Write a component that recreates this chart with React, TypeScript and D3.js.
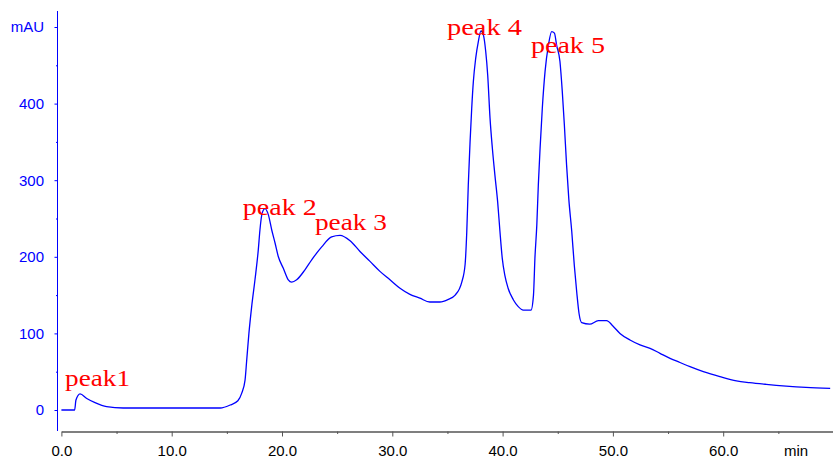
import React, { useEffect, useRef } from 'react';
import * as d3 from 'd3';

// retention time (min) and absorbance (mAU)
const times = [
  0, 1.2, 1.32, 1.69, 2.3, 3.05, 4.1, 5.6, 14.4, 15.3, 16.0, 16.35, 16.65, 16.8, 17.0, 17.25,
  17.55, 17.85, 18.0, 18.2, 18.46, 18.76, 19.07, 19.37, 19.67, 20.12, 20.57, 20.88, 21.33, 22.08,
  22.69, 23.6, 24.5, 25.26, 26.17, 27.07, 27.98, 28.88, 29.79, 30.7, 31.6, 32.5, 33.4, 34.3,
  35.08, 35.7, 36.3, 36.6, 36.75, 36.89, 37.05, 37.2, 37.35, 37.56, 37.8, 38.04, 38.25, 38.47,
  38.65, 38.86, 39.07, 39.3, 39.55, 39.76, 39.97, 40.2, 40.5, 40.97, 41.42, 41.88, 42.58, 42.8,
  42.93, 43.1, 43.24, 43.4, 43.6, 43.85, 44.15, 44.45, 44.7, 44.9, 45.2, 45.41, 45.6, 45.8, 46.0,
  46.27, 46.5, 46.72, 46.93, 47.17, 47.9, 48.68, 49.43, 50.0, 50.64, 51.55, 52.46, 53.37, 54.27,
  55.18, 56.08, 56.99, 58.2, 59.7, 61.2, 62.4, 63.9, 65.7, 67.5, 69.7,
];
const absorbance = [
  0, 0, 13, 21, 15, 9.6, 4.4, 2.6, 2.6, 6.5, 12, 22, 39, 65, 100, 135,
  170, 209, 235, 257, 263, 255, 235, 218, 200, 185, 170, 167, 170, 183,
  196, 213, 226, 228, 221, 207, 194, 181, 170, 159, 151, 146, 141, 141,
  144.5, 150, 167, 190, 232, 294, 350, 394, 429, 459, 481, 495, 490, 468,
  437, 381, 342, 307, 272, 233, 198, 176, 159, 144, 135, 130.5, 130.5, 150,
  198, 241, 294, 342, 394, 442, 476, 494, 492, 476, 455, 416, 372, 320, 276,
  233, 189, 154, 126, 114, 112, 116.6, 116.6, 109.7, 100, 91.4, 85, 80.5, 74,
  67.5, 62, 56.5, 50, 43.5, 38, 35.7, 33.5, 31.3, 29.6, 28.3,
];

const xMajorTicks = [0, 10, 20, 30, 40, 50, 60];
const xMinorTicks = [5, 15, 25, 35, 45, 55, 65];
const yMajorTicks = [0, 100, 200, 300, 400, 500];
const yMinorTicks = [50, 150, 250, 350, 450];

const peakNames = ['peak1', 'peak 2', 'peak 3', 'peak 4', 'peak 5'];
// label anchor (left, baseline) in data units
const peakLabelTime = [0.33, 16.44, 22.99, 34.96, 42.57];
const peakLabelValue = [31, 255, 235, 489, 466];

const W = 833;
const H = 459;

export default function App() {
  const svgRef = useRef<SVGSVGElement>(null);

  useEffect(() => {
    if (!svgRef.current) return;
    const svg = d3.select(svgRef.current);
    svg.selectAll('*').remove();

    const x = d3.scaleLinear().domain([0, 70]).range([61.4, 833.5]);
    const y = d3.scaleLinear().domain([0, 500]).range([410, 27]);
    const axisY = 431.5;
    const axisX = 57.5;
    const sans = "'Liberation Sans', Arial, Helvetica, sans-serif";

    // x axis
    const gx = svg.append('g').attr('transform', `translate(0,${axisY})`);
    gx.call(
      d3.axisBottom(x).tickValues(xMajorTicks).tickSize(5).tickSizeOuter(0)
        .tickFormat(d => d3.format('.1f')(d as number))
    );
    gx.select('.domain').attr('stroke', '#555').attr('stroke-width', 1.5);
    gx.selectAll('.tick line').attr('stroke', '#555');
    gx.selectAll('.tick text')
      .attr('y', 24).attr('dy', 0)
      .attr('font-family', sans).attr('font-size', 15).attr('fill', '#000');

    const gxMinor = svg.append('g').attr('transform', `translate(0,${axisY})`);
    gxMinor.call(d3.axisBottom(x).tickValues(xMinorTicks).tickSize(2.5).tickFormat(() => ''));
    gxMinor.select('.domain').remove();
    gxMinor.selectAll('.tick line').attr('stroke', '#555');

    svg.append('text')
      .attr('x', 796).attr('y', axisY + 24)
      .attr('text-anchor', 'middle')
      .attr('font-family', sans).attr('font-size', 15).attr('fill', '#000')
      .text('min');

    // y axis
    svg.append('line')
      .attr('x1', axisX).attr('x2', axisX)
      .attr('y1', 11).attr('y2', 431)
      .attr('stroke', '#0000ff').attr('stroke-width', 1);

    const gy = svg.append('g').attr('transform', `translate(${axisX},0)`);
    gy.call(
      d3.axisLeft(y).tickValues(yMajorTicks).tickSize(3)
        .tickFormat(d => (d === 500 ? 'mAU' : String(d)))
    );
    gy.select('.domain').remove();
    gy.selectAll('.tick line').attr('stroke', '#0000ff');
    gy.selectAll('.tick text')
      .attr('x', -13.5)
      .attr('font-family', sans).attr('font-size', 15).attr('fill', '#0000ff');

    const gyMinor = svg.append('g').attr('transform', `translate(${axisX},0)`);
    gyMinor.call(d3.axisLeft(y).tickValues(yMinorTicks).tickSize(1.5).tickFormat(() => ''));
    gyMinor.select('.domain').remove();
    gyMinor.selectAll('.tick line').attr('stroke', '#0000ff');

    // trace
    const pts = times.map((t, i) => [t, absorbance[i]] as [number, number]);
    const line = d3.line<[number, number]>()
      .x(d => x(d[0]))
      .y(d => y(d[1]))
      .curve(d3.curveMonotoneX);

    svg.append('path')
      .attr('d', line(pts))
      .attr('fill', 'none')
      .attr('stroke', '#0000ff')
      .attr('stroke-width', 1.3);

    // peak labels
    const labelWidths = [65, 74, 72, 75, 74];
    peakNames.forEach((name, i) => {
      svg.append('text')
        .attr('x', x(peakLabelTime[i]))
        .attr('y', y(peakLabelValue[i]))
        .attr('font-family', "'Liberation Serif', 'Times New Roman', serif")
        .attr('font-size', 23)
        .attr('fill', '#ff0000')
        .attr('textLength', labelWidths[i])
        .attr('lengthAdjust', 'spacingAndGlyphs')
        .text(name);
    });
  }, []);

  return (
    <svg
      ref={svgRef}
      width={W}
      height={H}
      style={{ position: 'absolute', left: 0, top: 0, background: '#fff', display: 'block' }}
    />
  );
}
